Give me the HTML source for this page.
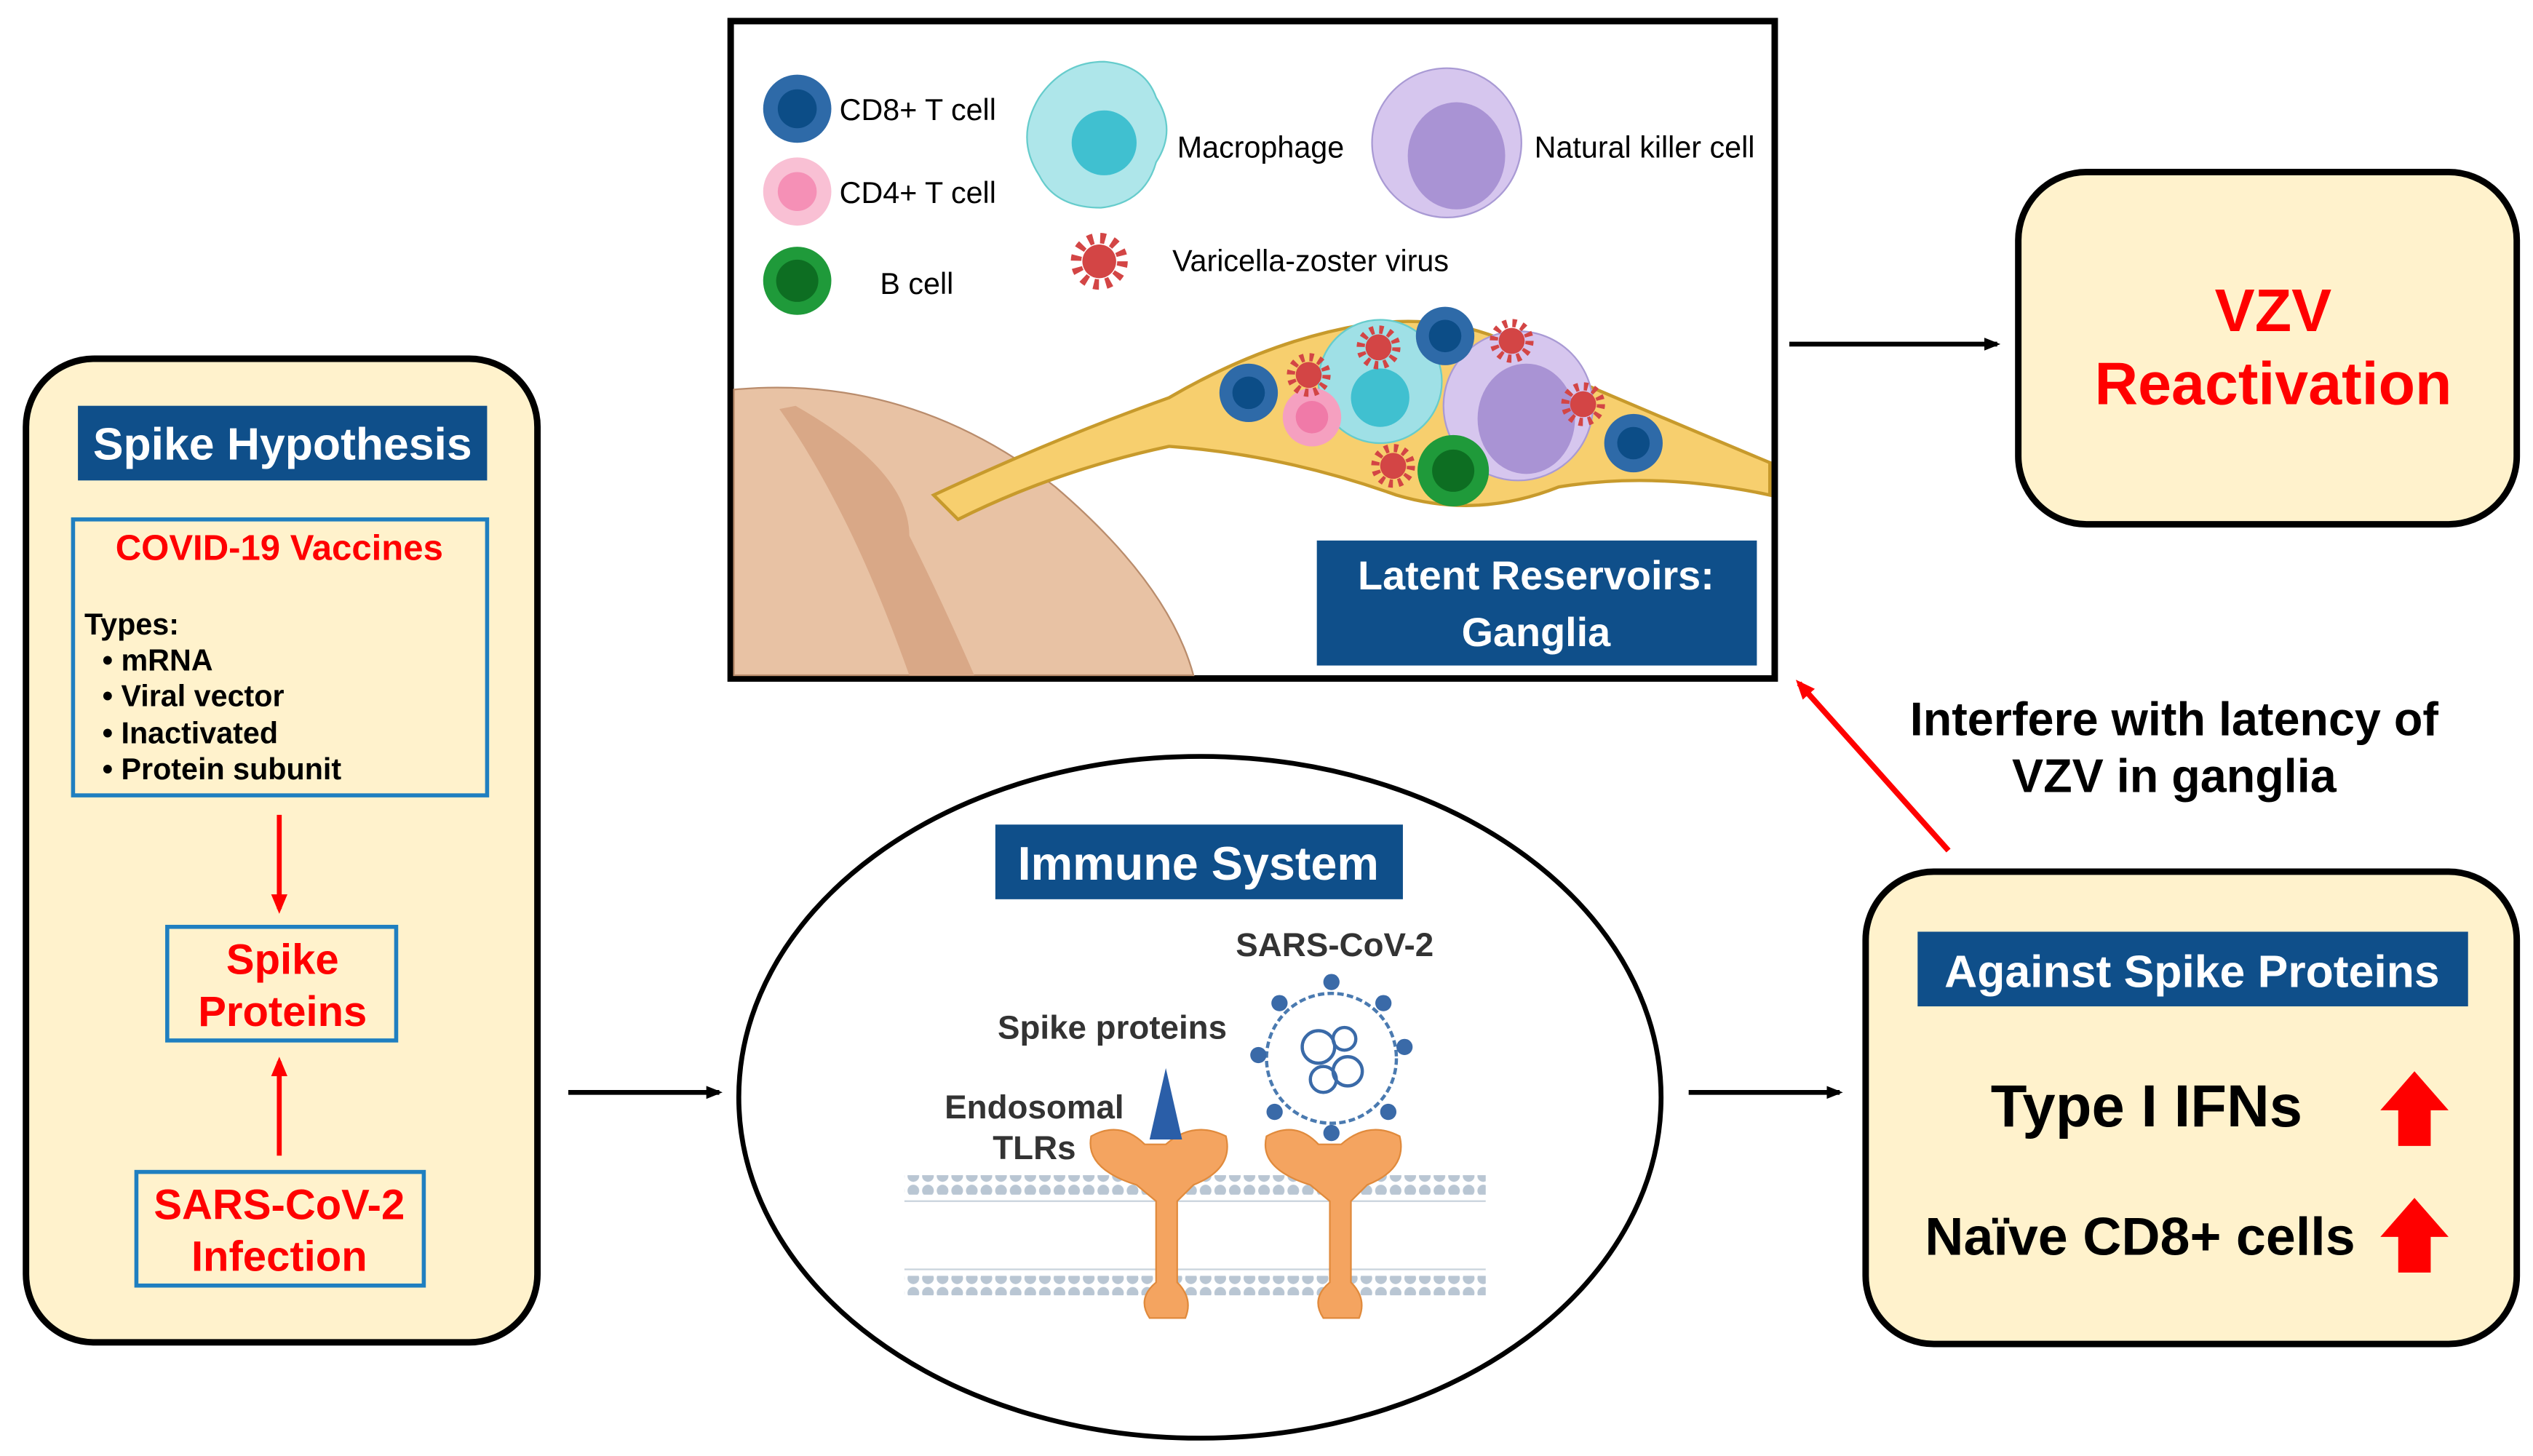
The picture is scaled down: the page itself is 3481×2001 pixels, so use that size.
<!DOCTYPE html>
<html><head><meta charset="utf-8"><style>html,body{margin:0;padding:0;background:#fff}svg{display:block}</style></head><body>
<svg width="3481" height="2001" viewBox="0 0 1560 897" preserveAspectRatio="none" xmlns="http://www.w3.org/2000/svg" font-family="Liberation Sans, sans-serif" font-weight="bold">
<defs>
<marker id="ab" markerWidth="10" markerHeight="10" refX="8" refY="5" orient="auto" markerUnits="userSpaceOnUse"><path d="M0,1 L10,5 L0,9 z" fill="#000"/></marker>
<marker id="ar" markerWidth="12" markerHeight="12" refX="9" refY="6" orient="auto" markerUnits="userSpaceOnUse"><path d="M0,1 L12,6 L0,11 z" fill="#f00"/></marker>
<pattern id="mem" width="9" height="9" patternUnits="userSpaceOnUse"><circle cx="4.5" cy="4.5" r="3.6" fill="#b9c6d3"/></pattern>
<g id="vir"><circle r="11" fill="none" stroke="#d34545" stroke-width="5" stroke-dasharray="2.5 3.3"/><circle r="8" fill="#d34545"/></g>
</defs>
<!-- left box -->
<rect x="16" y="221" width="315" height="606" rx="42" fill="#fff2cc" stroke="#000" stroke-width="4"/>
<rect x="48" y="250" width="252" height="46" fill="#0f4f8a"/>
<text x="174" y="283" fill="#fff" font-size="28" text-anchor="middle">Spike Hypothesis</text>
<rect x="45" y="320" width="255" height="170" fill="#fff2cc" stroke="#1f7fc0" stroke-width="2.5"/>
<text x="172" y="345" fill="#f00" font-size="22" text-anchor="middle">COVID-19 Vaccines</text>
<g font-size="18.5" fill="#000"><text x="52" y="391">Types:</text>
<text x="63" y="413">• mRNA</text><text x="63" y="435">• Viral vector</text><text x="63" y="458">• Inactivated</text><text x="63" y="480">• Protein subunit</text></g>
<line x1="172" y1="502" x2="172" y2="560" stroke="#f00" stroke-width="3" marker-end="url(#ar)"/>
<rect x="103" y="571" width="141" height="70" fill="#fff2cc" stroke="#1f7fc0" stroke-width="2.5"/>
<text x="174" y="600" fill="#f00" font-size="26" text-anchor="middle">Spike</text>
<text x="174" y="632" fill="#f00" font-size="26" text-anchor="middle">Proteins</text>
<line x1="172" y1="712" x2="172" y2="654" stroke="#f00" stroke-width="3" marker-end="url(#ar)"/>
<rect x="84" y="722" width="177" height="70" fill="#fff2cc" stroke="#1f7fc0" stroke-width="2.5"/>
<text x="172" y="751" fill="#f00" font-size="26" text-anchor="middle">SARS-CoV-2</text>
<text x="172" y="783" fill="#f00" font-size="26" text-anchor="middle">Infection</text>
<line x1="350" y1="673" x2="443" y2="673" stroke="#000" stroke-width="3" marker-end="url(#ab)"/>
<!-- ellipse -->
<ellipse cx="739" cy="676" rx="284" ry="210" fill="#fff" stroke="#000" stroke-width="3"/>
<rect x="613" y="508" width="251" height="46" fill="#0f4f8a"/>
<text x="738" y="542" fill="#fff" font-size="29" text-anchor="middle">Immune System</text>
<rect x="557" y="724" width="358" height="12" fill="url(#mem)"/>
<rect x="557" y="786" width="358" height="12" fill="url(#mem)"/>
<g stroke="#c9d3dc" stroke-width="1"><line x1="557" y1="740" x2="915" y2="740"/><line x1="557" y1="782" x2="915" y2="782"/></g>
<g fill="#f4a460" stroke="#e08a3c">
<path d="M672 700 Q690 690 705 705 L718 705 Q735 690 755 700 Q760 720 735 730 L725 740 L725 790 Q735 800 730 812 L708 812 Q700 800 712 790 L712 740 L700 730 Q668 720 672 700z"/>
<path d="M780 700 Q798 690 812 705 L826 705 Q843 690 862 700 Q867 720 842 730 L832 740 L832 790 Q842 800 837 812 L815 812 Q807 800 819 790 L819 740 L807 730 Q775 720 780 700z"/>
</g>
<path d="M708 702 L718 658 L728 702 z" fill="#2a5ea8"/>
<circle cx="820" cy="652" r="40" fill="#fff" stroke="#4a7ab0" stroke-width="2" stroke-dasharray="4 2"/>
<g stroke="#3a6aa8" stroke-width="2" fill="none"><circle cx="812" cy="645" r="10"/><circle cx="830" cy="660" r="9"/><circle cx="815" cy="665" r="8"/><circle cx="828" cy="640" r="7"/></g>
<g fill="#3a6aa8"><circle cx="820" cy="605" r="5"/><circle cx="865" cy="645" r="5"/><circle cx="775" cy="650" r="5"/><circle cx="852" cy="618" r="5"/><circle cx="788" cy="618" r="5"/><circle cx="855" cy="685" r="5"/><circle cx="785" cy="685" r="5"/><circle cx="820" cy="698" r="5"/></g>
<g font-size="20.5" fill="#333" text-anchor="middle"><text x="685" y="640">Spike proteins</text><text x="822" y="589">SARS-CoV-2</text><text x="637" y="689">Endosomal</text><text x="637" y="714">TLRs</text></g>
<line x1="1040" y1="673" x2="1133" y2="673" stroke="#000" stroke-width="3" marker-end="url(#ab)"/>
<!-- right box -->
<rect x="1149" y="537" width="401" height="291" rx="42" fill="#fff2cc" stroke="#000" stroke-width="4"/>
<rect x="1181" y="574" width="339" height="46" fill="#0f4f8a"/>
<text x="1350" y="608" fill="#fff" font-size="28" text-anchor="middle">Against Spike Proteins</text>
<text x="1322" y="694" font-size="36.5" text-anchor="middle">Type I IFNs</text>
<text x="1318" y="773" font-size="33" text-anchor="middle">Naïve CD8+ cells</text>
<path d="M1477 706 L1477 684 L1466 684 L1487 660 L1508 684 L1497 684 L1497 706z" fill="#f00"/>
<path d="M1477 784 L1477 762 L1466 762 L1487 738 L1508 762 L1497 762 L1497 784z" fill="#f00"/>
<line x1="1200" y1="524" x2="1108" y2="421" stroke="#f00" stroke-width="3.5" marker-end="url(#ar)"/>
<text x="1339" y="453" font-size="29" text-anchor="middle">Interfere with latency of</text>
<text x="1339" y="488" font-size="29" text-anchor="middle">VZV in ganglia</text>
<!-- VZV box -->
<line x1="1102" y1="212" x2="1230" y2="212" stroke="#000" stroke-width="3" marker-end="url(#ab)"/>
<rect x="1243" y="106" width="307" height="217" rx="42" fill="#fff2cc" stroke="#000" stroke-width="4"/>
<text x="1400" y="204" fill="#f00" font-size="37" text-anchor="middle">VZV</text>
<text x="1400" y="249" fill="#f00" font-size="37" text-anchor="middle">Reactivation</text>
<!-- top box -->
<rect x="450" y="13" width="643" height="405" fill="#fff" stroke="#000" stroke-width="4"/>
<path d="M452 240 Q560 230 650 300 Q720 360 735 416 L452 416z" fill="#e8c2a4" stroke="#b98c6c"/>
<path d="M490 250 Q560 290 560 330 Q580 370 600 416 L560 416 Q540 360 520 320 Q500 280 480 252z" fill="#d9a887"/>
<path d="M575 305 Q650 270 720 245 Q780 210 840 200 Q910 190 960 230 Q1030 260 1090 285 L1090 305 Q1020 290 960 300 Q910 320 860 305 Q790 280 720 275 Q650 290 590 320z" fill="#f7cf6e" stroke="#c79a2c" stroke-width="2"/>
<circle cx="850" cy="235" r="38" fill="#9fe0e6" stroke="#6cc" />
<circle cx="850" cy="245" r="18" fill="#40c0d0"/>
<circle cx="935" cy="250" r="46" fill="#d6c6ee" stroke="#a99ad4"/>
<ellipse cx="940" cy="258" rx="30" ry="34" fill="#a993d4"/>
<g><circle cx="769" cy="242" r="18" fill="#2e6aa8"/><circle cx="769" cy="242" r="10" fill="#0c4d87"/>
<circle cx="890" cy="207" r="18" fill="#2e6aa8"/><circle cx="890" cy="207" r="10" fill="#0c4d87"/>
<circle cx="1006" cy="273" r="18" fill="#2e6aa8"/><circle cx="1006" cy="273" r="10" fill="#0c4d87"/>
<circle cx="808" cy="257" r="18" fill="#f5a0c0"/><circle cx="808" cy="257" r="10" fill="#f07aa8"/>
<circle cx="895" cy="290" r="22" fill="#1f9a3a"/><circle cx="895" cy="290" r="13" fill="#0d6e22"/></g>
<use href="#vir" x="806" y="231"/><use href="#vir" x="849" y="214"/><use href="#vir" x="931" y="210"/><use href="#vir" x="975" y="249"/><use href="#vir" x="858" y="287"/>
<rect x="811" y="333" width="271" height="77" fill="#0f4f8a"/>
<text x="946" y="363" fill="#fff" font-size="25" text-anchor="middle">Latent Reservoirs:</text>
<text x="946" y="398" fill="#fff" font-size="25" text-anchor="middle">Ganglia</text>
<!-- legend -->
<circle cx="491" cy="67" r="21" fill="#2e6aa8"/><circle cx="491" cy="67" r="12" fill="#0c4d87"/>
<circle cx="491" cy="118" r="21" fill="#f9c0d4"/><circle cx="491" cy="118" r="12" fill="#f590b6"/>
<circle cx="491" cy="173" r="21" fill="#1f9a3a"/><circle cx="491" cy="173" r="13" fill="#0d6e22"/>
<path d="M680 38 Q705 40 712 60 Q725 80 712 100 Q705 125 678 128 Q650 128 640 108 Q625 85 640 60 Q655 38 680 38z" fill="#aee6ea" stroke="#6cc"/>
<circle cx="680" cy="88" r="20" fill="#40c0d0"/>
<circle cx="891" cy="88" r="46" fill="#d6c6ee" stroke="#a99ad4"/>
<ellipse cx="897" cy="96" rx="30" ry="33" fill="#a993d4"/>
<g transform="translate(677 161) scale(1.3)"><use href="#vir"/></g>
<g font-weight="normal" font-size="18.5" fill="#000">
<text x="517" y="74">CD8+ T cell</text><text x="517" y="125">CD4+ T cell</text><text x="542" y="181">B cell</text>
<text x="725" y="97">Macrophage</text><text x="945" y="97">Natural killer cell</text><text x="722" y="167">Varicella-zoster virus</text></g>
</svg>
</body></html>
